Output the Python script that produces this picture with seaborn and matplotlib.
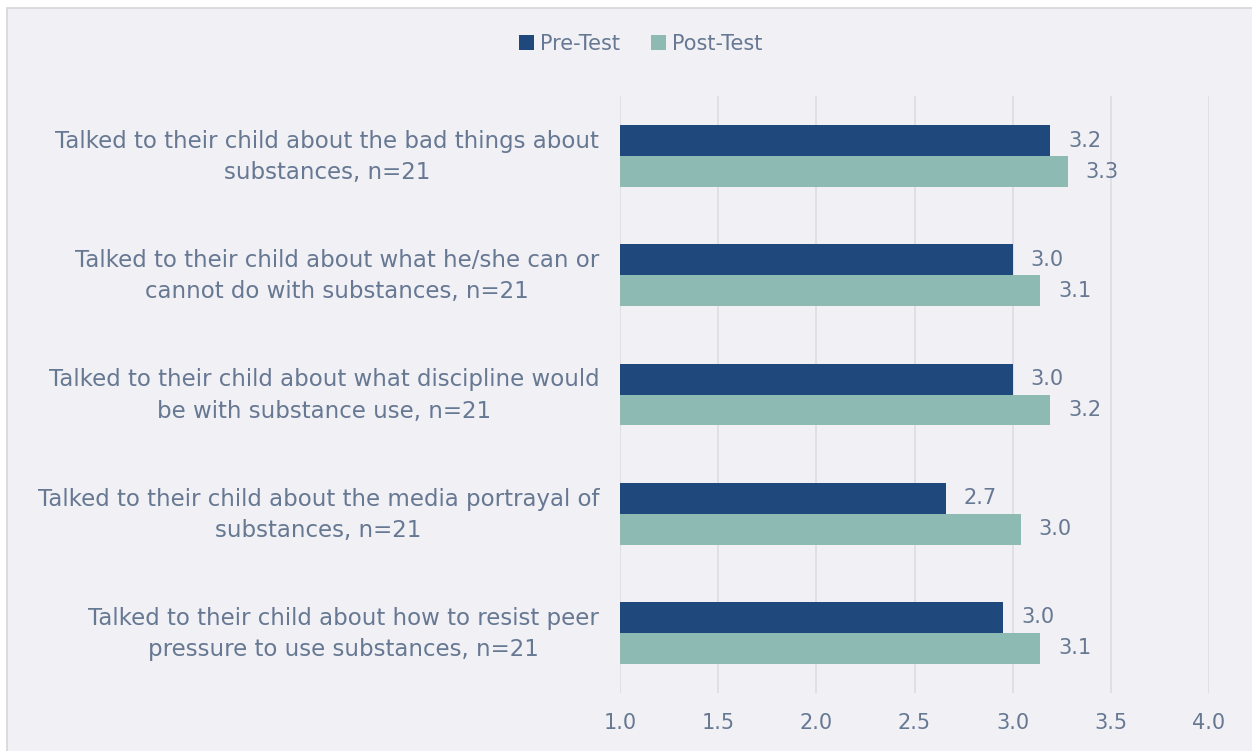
import matplotlib
matplotlib.use("Agg")
import matplotlib.pyplot as plt
import matplotlib.transforms as mtransforms
import seaborn as sns
import pandas as pd
from matplotlib.patches import Rectangle, Patch

categories = [
    "Talked to their child about the bad things about\nsubstances, n=21",
    "Talked to their child about what he/she can or\ncannot do with substances, n=21",
    "Talked to their child about what discipline would\nbe with substance use, n=21",
    "Talked to their child about the media portrayal of\nsubstances, n=21",
    "Talked to their child about how to resist peer\npressure to use substances, n=21",
]
pre_test = [3.19, 3.00, 3.00, 2.66, 2.95]
post_test = [3.28, 3.14, 3.19, 3.04, 3.14]
series = ["Pre-Test", "Post-Test"]
x_ticks = [1.0, 1.5, 2.0, 2.5, 3.0, 3.5, 4.0]

BG = "#F0F0F5"
TEXT = "#667892"
COLORS = {"Pre-Test": "#1F497D", "Post-Test": "#8DBAB3"}
FS = 15

df = pd.DataFrame({
    "category": categories * 2,
    "series": [series[0]] * len(categories) + [series[1]] * len(categories),
    "value": pre_test + post_test,
})

sns.set_theme(style="white")
plt.rcParams["font.family"] = ["DejaVu Sans"]

fig = plt.figure(figsize=(12.52, 7.51), dpi=100, facecolor="white")
fig.patches.append(Rectangle((7 / 1252, -0.01), 1.0, 1.01 - 8 / 751, transform=fig.transFigure,
                             facecolor=BG, edgecolor="#D5D5DA", linewidth=1.2, zorder=-10))
ax = fig.add_axes([0.4952, 0.0778, 0.4705, 0.7938])
ax.set_facecolor(BG)

sns.barplot(data=df, y="category", x="value", hue="series", orient="h",
            palette=COLORS, width=0.52, ax=ax, legend=False, saturation=1,
            linewidth=0)

ax.set_xlim(1.0, 4.0)
ax.set_xticks(x_ticks)
ax.set_xticklabels([f"{t:.1f}" for t in x_ticks])
ax.set_xlabel("")
ax.set_ylabel("")
ax.grid(axis="x", color="#DCDCE2", linewidth=1.2)
ax.set_axisbelow(True)
for s in ax.spines.values():
    s.set_visible(False)
ax.tick_params(axis="x", length=0, pad=15, labelsize=FS, labelcolor=TEXT)
ax.tick_params(axis="y", length=0, pad=15, labelsize=16.5, labelcolor=TEXT)
lift = mtransforms.ScaledTranslation(0, 4 / 72, fig.dpi_scale_trans)
for lbl in ax.get_yticklabels():
    lbl.set_multialignment("center")
    lbl.set_linespacing(1.45)
    lbl.set_transform(lbl.get_transform() + lift)

for container in ax.containers:
    ax.bar_label(container, labels=[f"{v:.1f}" for v in container.datavalues],
                 padding=13, fontsize=FS, color=TEXT)

handles = [Patch(facecolor=COLORS[s], edgecolor="none") for s in series]
fig.legend(handles, series, loc="center", bbox_to_anchor=(641 / 1252, 1 - 44 / 751),
           ncol=2, frameon=False, fontsize=FS, labelcolor=TEXT,
           handlelength=0.7, handleheight=0.7, handletextpad=0.3, columnspacing=1.5)

fig.savefig("out.png", dpi=100, facecolor="white")
